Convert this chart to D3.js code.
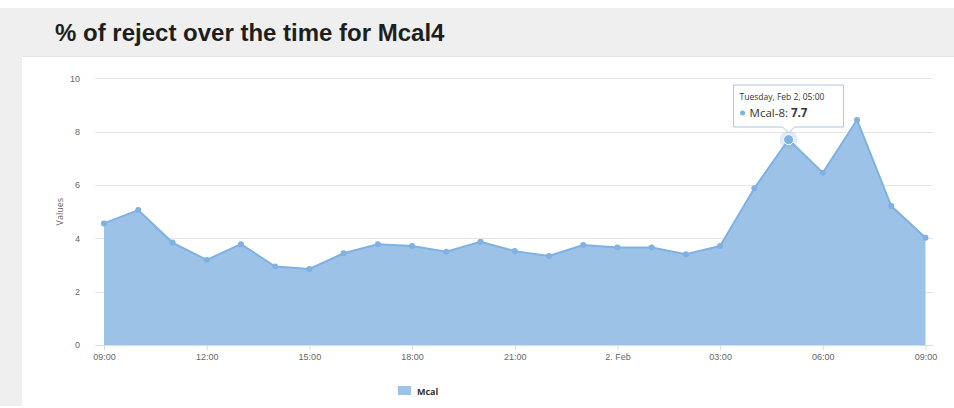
<!DOCTYPE html>
<html>
<head>
<meta charset="utf-8">
<script src="https://cdn.jsdelivr.net/npm/d3@7"></script>
<style>
  html, body { margin: 0; padding: 0; background: #fff; }
  svg { display: block; font-family: "Open Sans", "Liberation Sans", Arial, sans-serif; }
</style>
</head>
<body>
<svg id="chart" width="954" height="408"></svg>
<script>
// ---- data ----
const startTime = "2016-02-01T09:00:00";
const hours = [0,1,2,3,4,5,6,7,8,9,10,11,12,13,14,15,16,17,18,19,20,21,22,23,24];
const values = [4.56,5.06,3.84,3.19,3.78,2.94,2.85,3.44,3.78,3.71,3.50,3.87,3.52,3.34,3.75,3.66,3.66,3.40,3.71,5.88,7.7,6.46,8.44,5.21,4.02];
const xTickHours = [0,3,6,9,12,15,18,21,24];
const xTickLabels = ["09:00","12:00","15:00","18:00","21:00","2. Feb","03:00","06:00","09:00"];
const yTicks = [0,2,4,6,8,10];
const seriesName = "Mcal";
const titleText = "% of reject over the time for Mcal4";
const yAxisTitle = "Values";
const tooltipDate = "Tuesday, Feb 2, 05:00";
const tooltipSeries = "Mcal-8";
const tooltipIndex = 20;

// ---- layout ----
const svg = d3.select("#chart");
const W = 954, H = 408;
const plot = { left: 104, right: 925.5, top: 78.3, bottom: 345 };
const fillColor = "#9cc3e7";
const lineColor = "#7fb1e2";

// background frame
svg.append("rect").attr("x",0).attr("y",0).attr("width",W).attr("height",H).attr("fill","#ffffff");
svg.append("rect").attr("x",0).attr("y",8).attr("width",W).attr("height",49).attr("fill","#efefef");
svg.append("rect").attr("x",0).attr("y",8).attr("width",22).attr("height",H-10).attr("fill","#efefef");
svg.append("line").attr("x1",22).attr("x2",W).attr("y1",56.5).attr("y2",56.5).attr("stroke","#e4e4e4");

svg.append("text").attr("x",55).attr("y",41)
  .attr("font-family","'Liberation Sans', Arial, sans-serif")
  .attr("font-size",24).attr("font-weight","bold").attr("fill","#1e1e1e")
  .text(titleText);

const t0 = new Date(startTime);
const toDate = h => new Date(t0.getTime() + h*3600*1000);
const data = hours.map((h,i) => ({ t: toDate(h), v: values[i] }));

const x = d3.scaleTime().domain([toDate(0), toDate(24)]).range([plot.left, plot.right]);
const y = d3.scaleLinear().domain([0,10]).range([plot.bottom, plot.top]);

// gridlines
svg.append("g").selectAll("line").data(yTicks.filter(d => d > 0)).join("line")
  .attr("x1", 95).attr("x2", 933)
  .attr("y1", d => Math.round(y(d)) + 0.5).attr("y2", d => Math.round(y(d)) + 0.5)
  .attr("stroke","#e6e6e6").attr("stroke-width",1);

// y axis labels
const yAxis = d3.axisLeft(y).tickValues(yTicks).tickSize(0).tickPadding(0);
const gy = svg.append("g").attr("transform","translate(80,0)").call(yAxis);
gy.select(".domain").remove();
gy.selectAll("text").attr("font-size",9).attr("fill","#666").attr("dy","0.32em");

svg.append("text")
  .attr("transform", `translate(63,${(plot.top+plot.bottom)/2}) rotate(-90)`)
  .attr("text-anchor","middle").attr("font-size",9).attr("fill","#666")
  .text(yAxisTitle);

// area and line
const area = d3.area().x(d => x(d.t)).y0(y(0)).y1(d => y(d.v));
const line = d3.line().x(d => x(d.t)).y(d => y(d.v));
svg.append("path").datum(data).attr("d", area).attr("fill",fillColor);
svg.append("path").datum(data).attr("d", line).attr("fill","none").attr("stroke",lineColor).attr("stroke-width",2);

// x axis
const xAxis = d3.axisBottom(x)
  .tickValues(xTickHours.map(toDate))
  .tickFormat((d,i) => xTickLabels[i])
  .tickSize(5).tickSizeOuter(0).tickPadding(4);
const gx = svg.append("g").attr("transform",`translate(0,${plot.bottom})`).call(xAxis);
gx.select(".domain").attr("stroke","#d8dce6").attr("d", `M95,0.5H933`);
gx.selectAll(".tick line").attr("stroke","#d8dce6");
gx.selectAll("text").attr("font-size",9).attr("fill","#666");

// markers
svg.append("g").selectAll("circle").data(data).join("circle")
  .attr("cx", d => x(d.t)).attr("cy", d => y(d.v)).attr("r", 3)
  .attr("fill",lineColor);

// hovered marker
const hp = data[tooltipIndex];
svg.append("circle").attr("cx", x(hp.t)).attr("cy", y(hp.v)).attr("r", 9)
  .attr("fill",lineColor).attr("fill-opacity",0.25);
svg.append("circle").attr("cx", x(hp.t)).attr("cy", y(hp.v)).attr("r", 5)
  .attr("fill",lineColor).attr("stroke","#ffffff").attr("stroke-width",1);

// tooltip
const tx = x(hp.t), bw = 110, bh = 42, by = 85;
const bx = tx - bw/2;
const tip = svg.append("g");
tip.append("path")
  .attr("d", `M${bx},${by}H${bx+bw}V${by+bh}H${tx+6}L${tx},${by+bh+6}L${tx-6},${by+bh}H${bx}Z`)
  .attr("fill","#ffffff").attr("fill-opacity",0.92)
  .attr("stroke","#a9c6e2").attr("stroke-width",1);
tip.append("text").attr("x", bx+6).attr("y", by+15)
  .attr("font-size",8.5).attr("fill","#333").text(tooltipDate);
tip.append("circle").attr("cx", bx+9).attr("cy", by+28).attr("r",2.5).attr("fill",lineColor);
const tt = tip.append("text").attr("x", bx+16).attr("y", by+32).attr("font-size",11.5).attr("fill","#333");
tt.append("tspan").text(tooltipSeries + ": ");
tt.append("tspan").attr("font-weight","bold").text(values[tooltipIndex].toFixed(1));

// legend
svg.append("rect").attr("x",398).attr("y",386).attr("width",13).attr("height",9).attr("fill",fillColor);
svg.append("text").attr("x",417).attr("y",394.5).attr("font-size",9).attr("font-weight","bold")
  .attr("fill","#333").text(seriesName);
</script>
</body>
</html>
